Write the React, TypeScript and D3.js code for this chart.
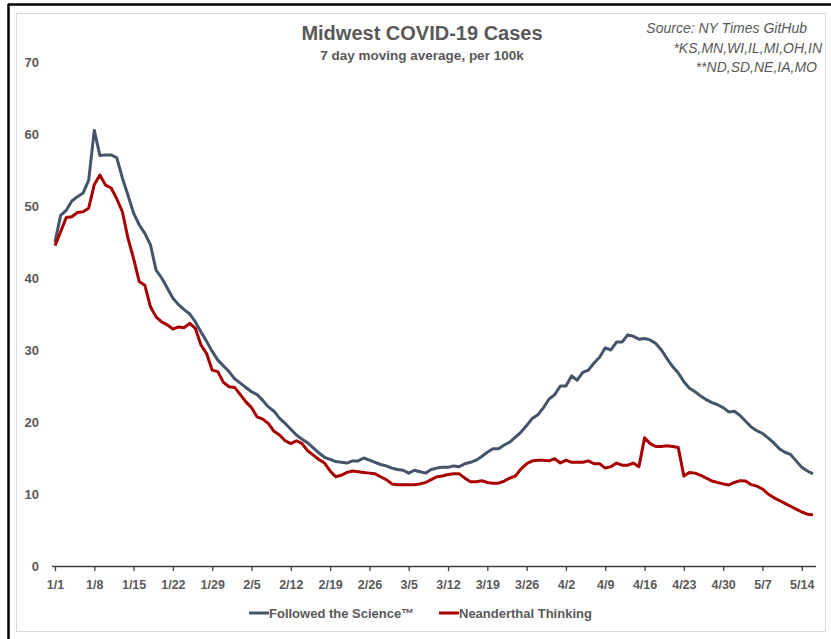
import { useEffect, useRef } from 'react';
import * as d3 from 'd3';

// Days from 1/1 through 5/15, one value per day
const START_DATE = new Date(2021, 0, 1);
const DAY_COUNT = 136;

const followedScience: number[] = [
  45.0, 48.7, 49.4, 50.7, 51.3, 51.8, 53.6, 60.5, 57.0, 57.1,
  57.1, 56.7, 53.9, 51.5, 49.0, 47.4, 46.2, 44.6, 41.1, 40.0,
  38.6, 37.2, 36.3, 35.6, 35.0, 33.9, 32.5, 31.2, 29.8, 28.6,
  27.8, 27.0, 26.0, 25.4, 24.8, 24.2, 23.8, 23.0, 22.1, 21.5,
  20.5, 19.8, 19.0, 18.2, 17.6, 17.1, 16.4, 15.7, 15.1, 14.8,
  14.5, 14.4, 14.3, 14.6, 14.6, 15.0, 14.7, 14.4, 14.1, 13.9,
  13.6, 13.4, 13.3, 12.9, 13.3, 13.1, 12.9, 13.4, 13.6, 13.7,
  13.7, 13.9, 13.8, 14.2, 14.4, 14.7, 15.2, 15.8, 16.3, 16.3,
  16.8, 17.2, 17.9, 18.6, 19.5, 20.5, 21.0, 22.0, 23.2, 23.8,
  25.0, 25.0, 26.4, 25.8, 26.9, 27.2, 28.2, 29.0, 30.3, 30.0,
  31.1, 31.1, 32.1, 31.9, 31.5, 31.6, 31.4, 30.9, 30.0, 28.8,
  27.7, 26.8, 25.6, 24.7, 24.2, 23.6, 23.1, 22.7, 22.4, 22.0,
  21.4, 21.5, 20.9, 20.1, 19.3, 18.8, 18.4, 17.8, 17.1, 16.3,
  15.8, 15.5, 14.6, 13.7, 13.2, 12.8,
];

const neanderthal: number[] = [
  44.5, 46.4, 48.4, 48.5, 49.1, 49.2, 49.7, 53.0, 54.3, 52.9,
  52.5, 51.0, 49.2, 45.5, 42.7, 39.5, 39.0, 36.0, 34.6, 33.9,
  33.5, 32.9, 33.2, 33.1, 33.7, 33.0, 30.7, 29.5, 27.2, 27.0,
  25.5, 24.9, 24.8, 23.8, 22.8, 22.0, 20.7, 20.4, 19.8, 18.7,
  18.2, 17.4, 17.0, 17.4, 17.0, 16.0, 15.4, 14.8, 14.3, 13.2,
  12.4, 12.6, 13.0, 13.2, 13.1, 13.0, 12.9, 12.8, 12.4, 12.0,
  11.4, 11.3, 11.3, 11.3, 11.3, 11.4, 11.6, 12.0, 12.4, 12.5,
  12.7, 12.8, 12.8, 12.2, 11.7, 11.7, 11.85, 11.6, 11.5, 11.5,
  11.8, 12.2, 12.5, 13.5, 14.2, 14.6, 14.7, 14.7, 14.6, 14.9,
  14.3, 14.7, 14.4, 14.4, 14.4, 14.6, 14.2, 14.2, 13.6, 13.8,
  14.3, 14.0, 14.0, 14.3, 13.8, 17.8, 17.0, 16.6, 16.6, 16.7,
  16.6, 16.45, 12.5, 13.0, 12.9, 12.6, 12.2, 11.8, 11.6, 11.4,
  11.25, 11.6, 11.85, 11.8, 11.3, 11.1, 10.7, 10.0, 9.5, 9.1,
  8.7, 8.3, 7.9, 7.5, 7.2, 7.1,
];

const yTicks: number[] = [0, 10, 20, 30, 40, 50, 60, 70];
const xTickLabels: string[] = [
  '1/1', '1/8', '1/15', '1/22', '1/29', '2/5', '2/12', '2/19', '2/26', '3/5',
  '3/12', '3/19', '3/26', '4/2', '4/9', '4/16', '4/23', '4/30', '5/7', '5/14',
];

const seriesNames = ['Followed the Science™', 'Neanderthal Thinking'];
const seriesColors = ['#44546A', '#A80000'];

const sourceNotes = ['Source: NY Times GitHub', '*KS,MN,WI,IL,MI,OH,IN', '**ND,SD,NE,IA,MO'];

const W = 831;
const H = 639;
const FONT = '"Liberation Sans", Arial, sans-serif';

export default function App(): JSX.Element {
  const svgRef = useRef<SVGSVGElement>(null);

  useEffect(() => {
    if (!svgRef.current) return;
    const svg = d3.select(svgRef.current);
    svg.selectAll('*').remove();

    const dates = d3.range(DAY_COUNT).map(i => d3.timeDay.offset(START_DATE, i));

    const x = d3.scaleTime()
      .domain([dates[0], dates[DAY_COUNT - 1]])
      .range([55, 813]);
    const y = d3.scaleLinear().domain([0, 70]).range([566, 62]);

    // Outer frame (black top/left edge) and chart area border
    svg.append('rect').attr('width', W).attr('height', H).attr('fill', '#fff');
    svg.append('line').attr('x1', 8).attr('x2', W).attr('y1', 4.5).attr('y2', 4.5)
      .attr('stroke', '#000').attr('stroke-width', 2.5);
    svg.append('line').attr('x1', 8.5).attr('x2', 8.5).attr('y1', 4).attr('y2', H)
      .attr('stroke', '#000').attr('stroke-width', 2.5);
    svg.append('rect')
      .attr('x', 16.5).attr('y', 13.5).attr('width', 809).attr('height', 618)
      .attr('fill', 'none').attr('stroke', '#d9d9d9').attr('stroke-width', 1);

    // Title
    svg.append('text')
      .attr('x', 422).attr('y', 40)
      .attr('text-anchor', 'middle')
      .style('font-family', FONT).style('font-weight', 'bold').style('font-size', '20px')
      .style('fill', '#595959')
      .text('Midwest COVID-19 Cases');
    svg.append('text')
      .attr('x', 422).attr('y', 60)
      .attr('text-anchor', 'middle')
      .style('font-family', FONT).style('font-weight', 'bold').style('font-size', '13.5px')
      .style('fill', '#595959')
      .text('7 day moving average, per 100k');

    // Source notes
    const noteRight = [807, 822, 817];
    sourceNotes.forEach((t, i) => {
      svg.append('text')
        .attr('x', noteRight[i]).attr('y', 33 + i * 19.5)
        .attr('text-anchor', 'end')
        .style('font-family', FONT).style('font-style', 'italic').style('font-size', '14px')
        .style('fill', '#595959')
        .text(t);
    });

    // Y axis labels (no axis line)
    const yAxis = svg.append('g')
      .attr('transform', 'translate(39,0)')
      .call(d3.axisLeft(y).tickValues(yTicks).tickSize(0).tickPadding(0));
    yAxis.select('.domain').remove();
    yAxis.selectAll('text')
      .attr('dy', '0.35em')
      .style('font-family', FONT).style('font-weight', 'bold').style('font-size', '13px')
      .style('fill', '#595959');

    // X axis with weekly ticks
    const tickDates = xTickLabels.map((_, i) => dates[i * 7]);
    const xAxis = svg.append('g')
      .attr('transform', `translate(0,${y(0)})`)
      .call(d3.axisBottom(x)
        .tickValues(tickDates)
        .tickSize(5)
        .tickSizeOuter(0)
        .tickPadding(9)
        .tickFormat((_, i) => xTickLabels[i]));
    xAxis.select('.domain')
      .attr('d', `M${x(dates[0]) - 3},0.5H${x(dates[DAY_COUNT - 1]) + 3}`)
      .attr('stroke', '#404040').attr('stroke-width', 1.3);
    xAxis.selectAll('.tick line').attr('stroke', '#404040').attr('stroke-width', 1.3);
    xAxis.selectAll('text')
      .style('font-family', FONT).style('font-weight', 'bold').style('font-size', '12.5px')
      .style('fill', '#595959');

    // Lines
    const line = d3.line<number>()
      .x((_, i) => x(dates[i]))
      .y(d => y(d));

    [followedScience, neanderthal].forEach((vals, k) => {
      svg.append('path')
        .datum(vals)
        .attr('d', line)
        .attr('fill', 'none')
        .attr('stroke', seriesColors[k])
        .attr('stroke-width', 3)
        .attr('stroke-linejoin', 'round');
    });

    // Legend
    const legendX = [249, 439];
    seriesNames.forEach((name, k) => {
      const g = svg.append('g').attr('transform', `translate(${legendX[k]},613)`);
      g.append('line').attr('x1', 0).attr('x2', 20).attr('y1', 0).attr('y2', 0)
        .attr('stroke', seriesColors[k]).attr('stroke-width', 3);
      g.append('text')
        .attr('x', 20).attr('y', 0).attr('dy', '0.35em')
        .style('font-family', FONT).style('font-weight', 'bold').style('font-size', '13px')
        .style('fill', '#595959')
        .text(name);
    });
  }, []);

  return (
    <div style={{ position: 'absolute', left: 0, top: 0 }}>
      <svg ref={svgRef} width={W} height={H} style={{ display: 'block' }}></svg>
    </div>
  );
}
